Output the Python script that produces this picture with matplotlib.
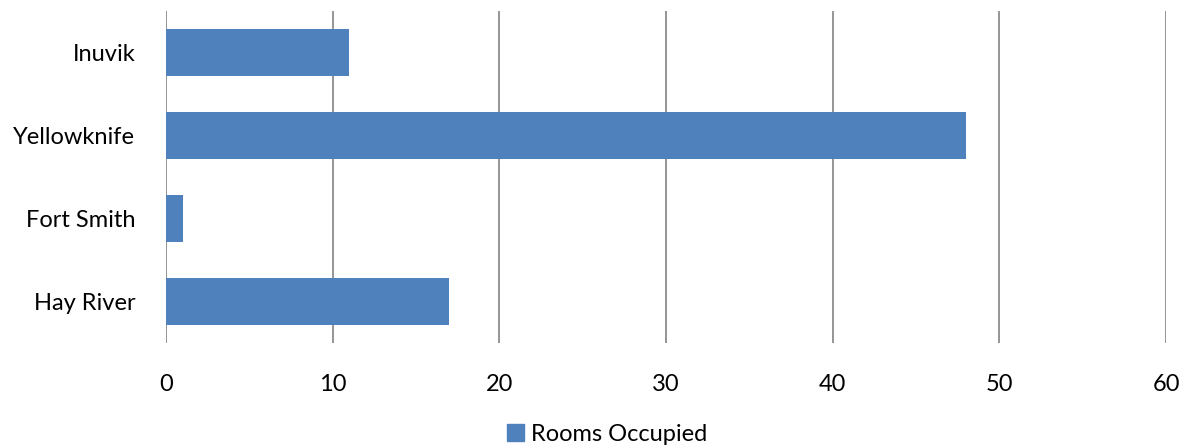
import matplotlib
matplotlib.use("Agg")
import matplotlib.pyplot as plt
from matplotlib.patches import Patch

categories = ["Hay River", "Fort Smith", "Yellowknife", "Inuvik"]
rooms_occupied = [17, 1, 48, 11]
x_ticks = [0, 10, 20, 30, 40, 50, 60]
series_name = "Rooms Occupied"

plt.rcParams['font.family'] = ['Lato', 'DejaVu Sans']

W, H = 1183, 448
fig = plt.figure(figsize=(W / 100, H / 100), dpi=100)
ax = fig.add_axes([166 / W, 1 - 343 / H, 1000 / W, 332 / H])

color = "#4F81BD"
ax.barh(range(len(categories)), rooms_occupied, height=0.56, color=color, zorder=3)
ax.set_xlim(0, 60)
ax.set_ylim(-0.5, len(categories) - 0.5)
ax.set_xticks(x_ticks)
ax.set_xticklabels([str(t) for t in x_ticks], fontsize=17)
ax.set_yticks(range(len(categories)))
ax.set_yticklabels(categories, fontsize=17)
ax.grid(axis='x', color="#8C8C8C", linewidth=1.3, zorder=0)
for s in ax.spines.values():
    s.set_visible(False)
ax.tick_params(axis='both', length=0)
ax.tick_params(axis='x', pad=22)
ax.tick_params(axis='y', pad=22)

fig.legend(handles=[Patch(color=color, label=series_name)], loc='center',
           bbox_to_anchor=(607 / W, 1 - 434 / H), frameon=False, fontsize=17,
           handlelength=0.7, handleheight=0.7, handletextpad=0.3)

fig.savefig("out.png", dpi=100)
